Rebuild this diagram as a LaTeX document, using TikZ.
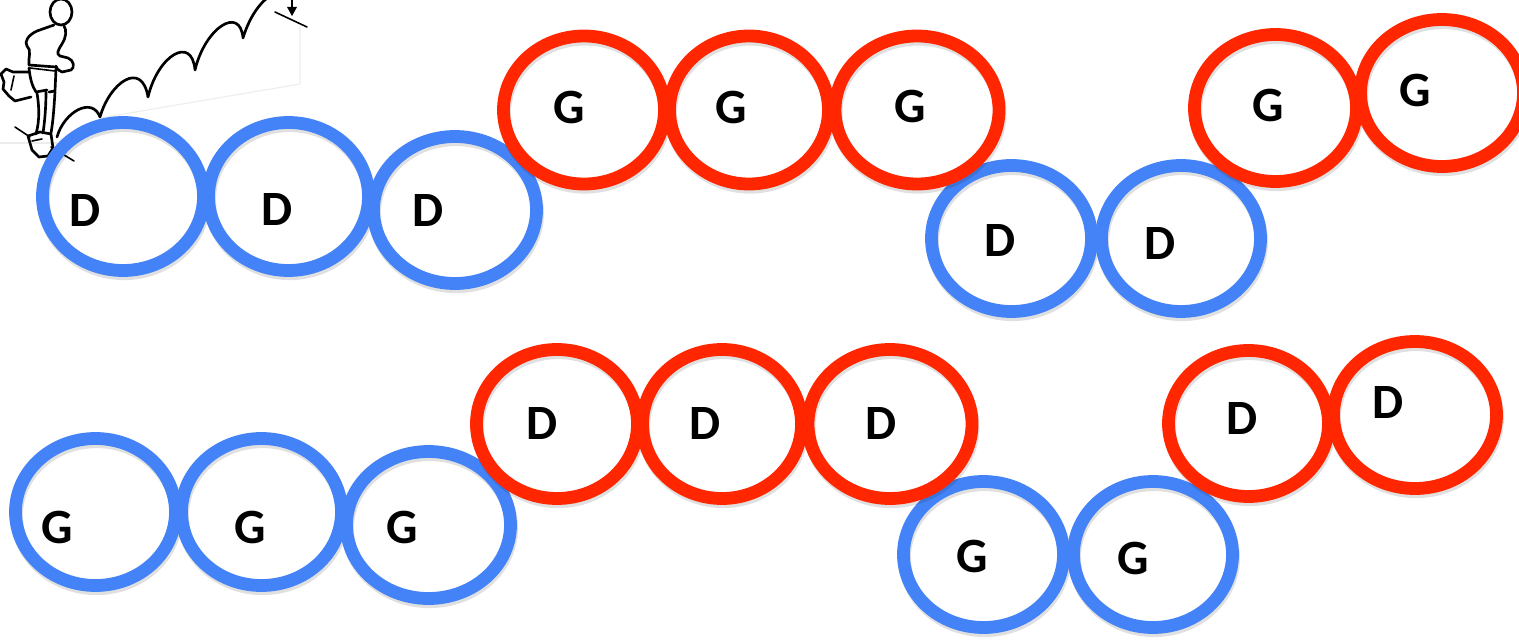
\documentclass[tikz,border=0pt]{standalone}
\usepackage{fontspec}
\setmainfont{Carlito}
\usetikzlibrary{shapes.geometric}
\definecolor{ringblue}{RGB}{68,131,247}
\definecolor{ringred}{RGB}{255,38,0}
\tikzset{
  ring/.style 2 args={ellipse, draw, line width=9.6pt, inner sep=0pt, outer sep=0pt,
    minimum width=(#1-13)*0.75pt, minimum height=(#2-13)*0.75pt,
    preaction={draw=black, draw opacity=0.12, line width=9.6pt,
      transform canvas={shift={(0.8pt,-2.4pt)}}}},
  bluering/.style={draw=ringblue},
  redring/.style={draw=ringred},
  letter/.style={inner sep=0pt, font=\fontsize{37pt}{37pt}\selectfont\bfseries},
  sketch/.style={line width=2pt, line cap=round, line join=round, draw=black},
  thinsketch/.style={line width=1.2pt, line cap=round, draw=black},
  faint/.style={line width=0.8pt, draw=black!7},
}
\begin{document}
\begin{tikzpicture}[x=0.75pt,y=-0.75pt]
\useasboundingbox (0,0) rectangle (1519,642);
\fill[white] (0,0) rectangle (1519,642);
\clip (0,0) rectangle (1519,642);

% ---- runner sketch ----
\draw[faint] (100,118) -- (300,84) -- (300,27);
\draw[faint] (0,143) -- (58,143);
\draw[sketch] (61,12) ellipse [x radius=11, y radius=13];
\draw[sketch] (54,25) -- (37,31) .. controls (28,35) and (24,42) .. (27,46) .. controls (32,50) and (28,58) .. (29,65);
\draw[sketch] (64,26) .. controls (67,30) and (66,38) .. (62,44) .. controls (58,50) and (56,54) .. (60,56) -- (68,58) .. controls (74,60) and (75,68) .. (71,70) -- (62,72) .. controls (58,70) and (56,68) .. (56,66);
\draw[sketch] (29,65) -- (56,67);
\draw[thinsketch] (30,68) -- (55,71);
\draw[sketch] (29,68) .. controls (30,78) and (32,86) .. (36,92) -- (47,90);
\draw[sketch] (56,69) -- (55,91) -- (49,92);
\draw[sketch] (29,72) -- (13,72) -- (6,69) -- (1,74) -- (4,82) -- (3,89) -- (9,96) -- (15,101) -- (31,97);
\draw[thinsketch] (14,76) -- (11,90);
\draw[sketch] (37,93) .. controls (39,105) and (40,120) .. (36,134);
\draw[sketch] (46,92) .. controls (46,105) and (45,120) .. (43,133);
\draw[sketch] (55,92) .. controls (54,108) and (53,122) .. (51,133);
\draw[sketch] (28,136) -- (32,150) -- (39,157) -- (48,156) -- (53,148) -- (51,134) -- (40,132) -- cycle;
\draw[thinsketch] (32,141) -- (42,139);
\draw[thinsketch] (15,127) -- (30,137);
\draw[thinsketch] (51,147) -- (74,161);
\draw[sketch] (57,137) .. controls (64,112) and (92,96) .. (100,117)
  .. controls (110,82) and (142,60) .. (148,97)
  .. controls (158,55) and (192,35) .. (195,70)
  .. controls (205,28) and (240,5) .. (243,38)
  .. controls (250,15) and (262,0) .. (272,-5);
\draw[sketch] (292,-2) -- (292,9);
\fill[black] (287,7) -- (297,7) -- (292,16) -- cycle;
\draw[thinsketch] (275,12) -- (307,27);

% ---- blue rings ----
\node[ring={174}{161}, bluering] (D1) at (123,196.5) {};
\node[ring={173}{161}, bluering] (D2) at (288.5,196.5) {};
\node[ring={176}{160}, bluering] (D3) at (455,210) {};
\node[ring={173}{159}, bluering] (D4) at (1011.5,238.5) {};
\node[ring={172}{159}, bluering] (D5) at (1181,238.5) {};
\node[ring={173}{160}, bluering] (G6) at (95.5,512) {};
\node[ring={173}{160}, bluering] (G7) at (261.5,512) {};
\node[ring={177}{160}, bluering] (G8) at (428.5,525) {};
\node[ring={173}{159}, bluering] (G9) at (983.5,554.5) {};
\node[ring={172}{159}, bluering] (G10) at (1153,554.5) {};

% ---- red rings ----
\node[ring={174}{161}, redring] (G1) at (584,110) {};
\node[ring={172}{161}, redring] (G2) at (749,110) {};
\node[ring={177}{161}, redring] (G3) at (917,110) {};
\node[ring={175}{160}, redring] (G4) at (1275.5,108) {};
\node[ring={176}{160}, redring] (G5) at (1442,93) {};
\node[ring={174}{162}, redring] (D6) at (557,424) {};
\node[ring={172}{162}, redring] (D7) at (722,424) {};
\node[ring={177}{162}, redring] (D8) at (890,424) {};
\node[ring={173}{159}, redring] (D9) at (1248.5,423.5) {};
\node[ring={176}{160}, redring] (D10) at (1415,415) {};

% ---- letters ----
\node[letter] (tD1) at (85,211) {D};
\node[letter] (tD2) at (277,210) {D};
\node[letter] (tD3) at (428,211) {D};
\node[letter] (tD4) at (1000,241) {D};
\node[letter] (tD5) at (1160,244) {D};
\node[letter] (tG6) at (57,527) {G};
\node[letter] (tG7) at (250,527) {G};
\node[letter] (tG8) at (402,527) {G};
\node[letter] (tG9) at (972,556) {G};
\node[letter] (tG10) at (1133,558) {G};
\node[letter] (tG1) at (569,107) {G};
\node[letter] (tG2) at (731,107) {G};
\node[letter] (tG3) at (910,106) {G};
\node[letter] (tG4) at (1268,105) {G};
\node[letter] (tG5) at (1415,90) {G};
\node[letter] (tD6) at (542,423) {D};
\node[letter] (tD7) at (705,423) {D};
\node[letter] (tD8) at (881,423) {D};
\node[letter] (tD9) at (1242,418) {D};
\node[letter] (tD10) at (1388,402) {D};
\end{tikzpicture}
\end{document}
